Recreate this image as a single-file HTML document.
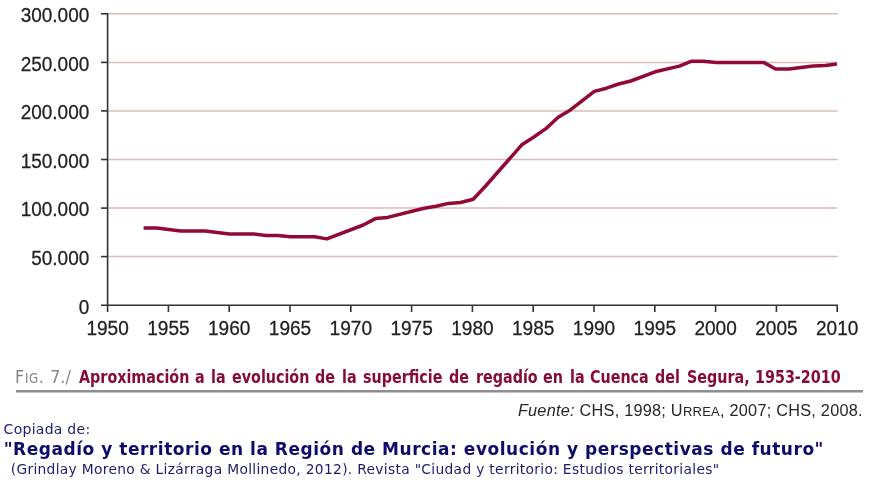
<!DOCTYPE html>
<html>
<head>
<meta charset="utf-8">
<style>
html,body{margin:0;padding:0;background:#fff;}
body{width:870px;height:492px;position:relative;overflow:hidden;}
svg{position:absolute;left:0;top:0;}
.t{position:absolute;white-space:nowrap;line-height:1;}
.w{position:absolute;top:368.6px;white-space:nowrap;line-height:1;font-family:"DejaVu Sans",sans-serif;font-stretch:condensed;font-weight:bold;font-size:17.4px;color:#870c35;transform:scaleX(0.915);transform-origin:0 0;}
.g{position:absolute;top:368.1px;white-space:nowrap;line-height:1;font-family:"DejaVu Sans",sans-serif;font-stretch:condensed;font-size:17.8px;color:#85858c;}
#rule{position:absolute;left:16px;top:390px;width:847px;height:2px;background:#8f8f8f;box-shadow:0 1px 0 #c4c4c4;}
#fuente{right:7.2px;top:401.8px;font-family:"Liberation Sans",sans-serif;font-size:16.3px;letter-spacing:0.24px;color:#262626;}
#cop{left:3.6px;top:422px;font-family:"DejaVu Sans",sans-serif;font-size:14px;letter-spacing:0.27px;color:#1c1c70;}
#ref{left:3.7px;top:440.8px;font-family:"DejaVu Sans",sans-serif;font-size:17px;letter-spacing:0.53px;font-weight:bold;color:#0c0c6a;}
#cit{left:10.7px;top:462.6px;font-family:"DejaVu Sans",sans-serif;font-size:13.8px;letter-spacing:0.32px;color:#1c1c70;}
</style>
</head>
<body>
<svg width="870" height="345" viewBox="0 0 870 345">
<g stroke="#dbbcb7" stroke-width="1.5">
<line x1="108.4" y1="256.6" x2="837.6" y2="256.6"/>
<line x1="108.4" y1="208.1" x2="837.6" y2="208.1"/>
<line x1="108.4" y1="159.5" x2="837.6" y2="159.5"/>
<line x1="108.4" y1="110.9" x2="837.6" y2="110.9"/>
<line x1="108.4" y1="62.4" x2="837.6" y2="62.4"/>
<line x1="108.4" y1="13.8" x2="837.6" y2="13.8"/>
</g>
<g stroke="#333" stroke-width="1.6" fill="none">
<line x1="107.6" y1="13" x2="107.6" y2="312"/>
<line x1="101" y1="305.2" x2="838" y2="305.2"/>
<line x1="101" y1="256.6" x2="107.6" y2="256.6"/>
<line x1="101" y1="208.1" x2="107.6" y2="208.1"/>
<line x1="101" y1="159.5" x2="107.6" y2="159.5"/>
<line x1="101" y1="110.9" x2="107.6" y2="110.9"/>
<line x1="101" y1="62.4" x2="107.6" y2="62.4"/>
<line x1="101" y1="13.8" x2="107.6" y2="13.8"/>
<line x1="168.4" y1="305" x2="168.4" y2="312"/>
<line x1="229.2" y1="305" x2="229.2" y2="312"/>
<line x1="290.0" y1="305" x2="290.0" y2="312"/>
<line x1="350.8" y1="305" x2="350.8" y2="312"/>
<line x1="411.6" y1="305" x2="411.6" y2="312"/>
<line x1="472.4" y1="305" x2="472.4" y2="312"/>
<line x1="533.2" y1="305" x2="533.2" y2="312"/>
<line x1="594.0" y1="305" x2="594.0" y2="312"/>
<line x1="654.8" y1="305" x2="654.8" y2="312"/>
<line x1="715.6" y1="305" x2="715.6" y2="312"/>
<line x1="776.4" y1="305" x2="776.4" y2="312"/>
<line x1="837.2" y1="305" x2="837.2" y2="312"/>
</g>
<polyline fill="none" stroke="#920a33" stroke-width="3.5" stroke-linejoin="round" stroke-linecap="butt" points="143.6,227.9 156.5,227.9 180.9,231.1 205.2,231.1 229.5,234 253.8,234 266.0,235.4 278.1,235.4 290.3,236.8 314.6,236.8 326.8,238.9 363.3,225 375.4,218.6 387.6,217.4 424.1,208.2 436.2,206.3 448.4,203.4 460.5,202.5 473.2,199.2 485.6,186.0 522.2,144.4 534.2,136.8 546.2,128.4 558.2,117.3 570.4,109.9 594.3,91.4 606.5,88.2 618.6,84 630.8,81 655.1,71.8 679.4,66.1 691.6,61.2 703.7,61.2 716.0,62.4 763.6,62.4 775.6,69 788.9,69 813.2,65.9 825.3,65.5 836.9,64.1"/>
<g font-family="Liberation Sans, sans-serif" font-size="19.0" fill="#222" stroke="#222" stroke-width="0.25" text-anchor="end">
<text transform="translate(89.3,313.5) scale(1,1.075)">0</text>
<text transform="translate(89.3,264.9) scale(1,1.075)">50.000</text>
<text transform="translate(89.3,216.4) scale(1,1.075)">100.000</text>
<text transform="translate(89.3,167.8) scale(1,1.075)">150.000</text>
<text transform="translate(89.3,119.2) scale(1,1.075)">200.000</text>
<text transform="translate(89.3,70.7) scale(1,1.075)">250.000</text>
<text transform="translate(89.3,22.1) scale(1,1.075)">300.000</text>
</g>
<g font-family="Liberation Sans, sans-serif" font-size="19.1" fill="#222" stroke="#222" stroke-width="0.25" text-anchor="middle">
<text transform="translate(107.6,335.4) scale(1,1.075)">1950</text>
<text transform="translate(168.4,335.4) scale(1,1.075)">1955</text>
<text transform="translate(229.2,335.4) scale(1,1.075)">1960</text>
<text transform="translate(290.0,335.4) scale(1,1.075)">1965</text>
<text transform="translate(350.8,335.4) scale(1,1.075)">1970</text>
<text transform="translate(411.6,335.4) scale(1,1.075)">1975</text>
<text transform="translate(472.4,335.4) scale(1,1.075)">1980</text>
<text transform="translate(533.2,335.4) scale(1,1.075)">1985</text>
<text transform="translate(594.0,335.4) scale(1,1.075)">1990</text>
<text transform="translate(654.8,335.4) scale(1,1.075)">1995</text>
<text transform="translate(715.6,335.4) scale(1,1.075)">2000</text>
<text transform="translate(776.4,335.4) scale(1,1.075)">2005</text>
<text transform="translate(837.2,335.4) scale(1,1.075)">2010</text>
</g>
</svg>
<span class="g" style="left:15.1px;letter-spacing:0.6px">F<span style="font-size:0.74em">IG</span>.</span>
<span class="g" style="left:50.2px">7./</span>
<span class="w" style="left:78.9px">Aproximación</span>
<span class="w" style="left:194.5px">a</span>
<span class="w" style="left:210.9px">la</span>
<span class="w" style="left:231.5px">evolución</span>
<span class="w" style="left:315.0px">de</span>
<span class="w" style="left:342.3px">la</span>
<span class="w" style="left:362.9px">superficie</span>
<span class="w" style="left:448.9px">de</span>
<span class="w" style="left:475.9px">regadío</span>
<span class="w" style="left:543.0px">en</span>
<span class="w" style="left:569.7px">la</span>
<span class="w" style="left:590.4px">Cuenca</span>
<span class="w" style="left:654.8px">del</span>
<span class="w" style="left:686.7px">Segura,</span>
<span class="w" style="left:754.6px">1953-2010</span>
<div id="rule"></div>
<div class="t" id="fuente"><i>Fuente:</i> CHS, 1998; U<span style="font-size:0.8em">RREA</span>, 2007; CHS, 2008.</div>
<div class="t" id="cop">Copiada de:</div>
<div class="t" id="ref">"Regadío y territorio en la Región de Murcia: evolución y perspectivas de futuro"</div>
<div class="t" id="cit">(Grindlay Moreno &amp; Lizárraga Mollinedo, 2012). Revista "Ciudad y territorio: Estudios territoriales"</div>
</body>
</html>
